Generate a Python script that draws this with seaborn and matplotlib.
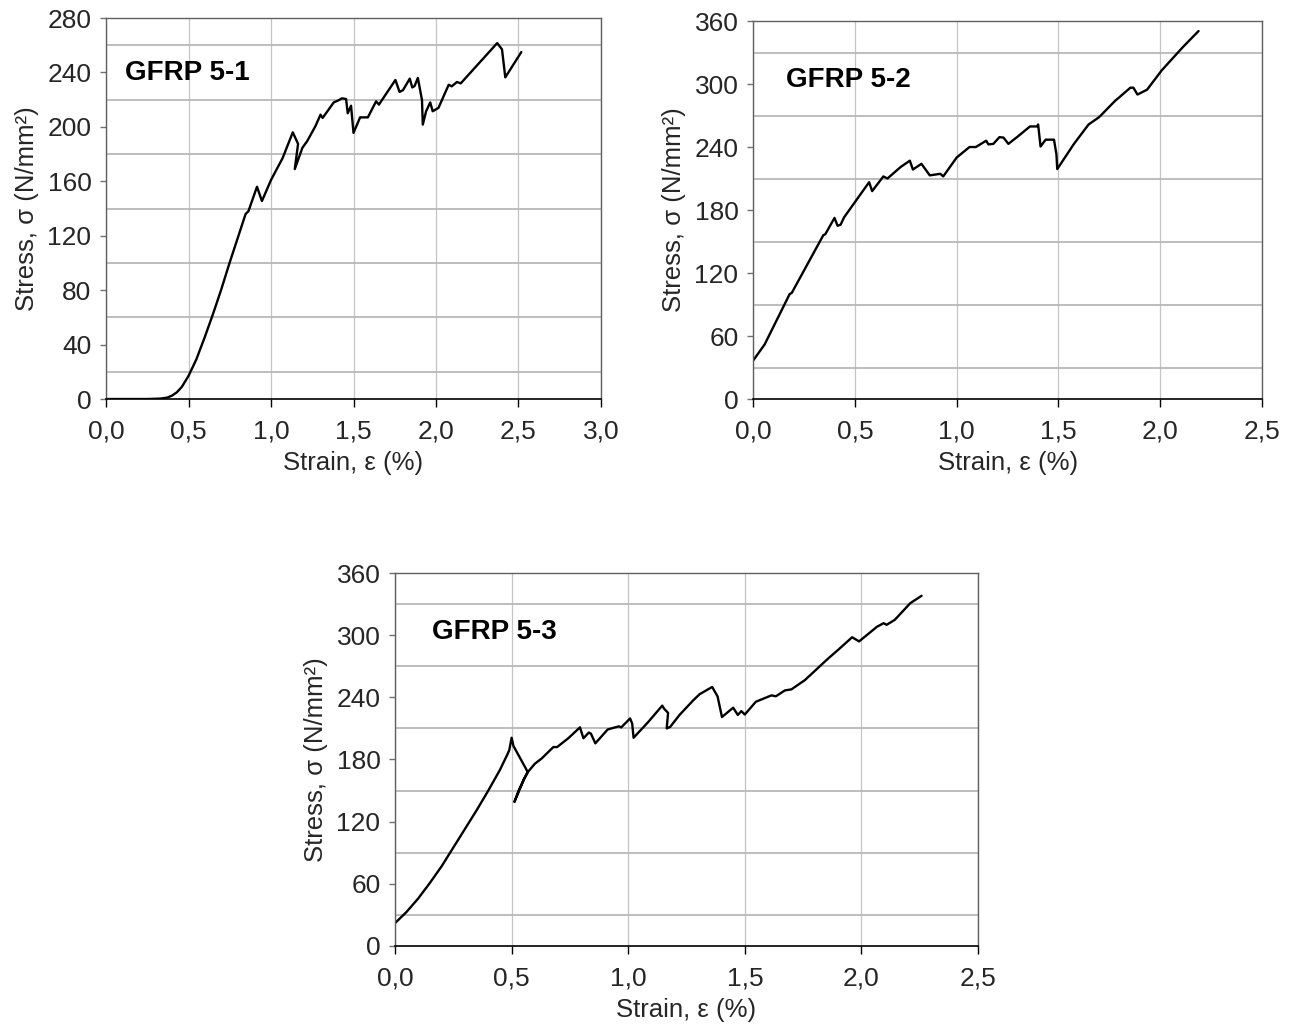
import numpy as np
import pandas as pd
import matplotlib
matplotlib.use("Agg")
import matplotlib.pyplot as plt
from matplotlib.ticker import FixedLocator, FuncFormatter
import seaborn as sns

# ---------------- data ----------------
strain_1 = [0.00, 0.25, 0.33, 0.37, 0.40, 0.43, 0.46, 0.50, 0.547, 0.597, 0.647, 0.697, 0.746, 0.796,
            0.846, 0.863, 0.915, 0.945, 1.00, 1.07, 1.132, 1.164, 1.144, 1.19, 1.219, 1.269,
            1.30, 1.313, 1.38, 1.405, 1.43, 1.455, 1.465, 1.485, 1.50, 1.54, 1.587, 1.637,
            1.654, 1.754, 1.779, 1.80, 1.841, 1.856, 1.87, 1.89, 1.915, 1.92, 1.94, 1.965,
            1.98, 2.015, 2.077, 2.095, 2.127, 2.15, 2.371, 2.40, 2.42, 2.517]
stress_1 = [0.0, 0.0, 0.3, 1.0, 2.5, 5.0, 9.0, 17.0, 29.0, 45.0, 62.0, 80.0, 99.0, 117.5,
            136.0, 138.0, 156.0, 145.5, 161.0, 177.0, 196.0, 187.5, 169.0, 184.6, 189.5, 200.5,
            209.0, 206.6, 218.0, 219.3, 221.0, 220.5, 210.0, 215.6, 195.6, 207.0, 207.0, 218.8,
            216.4, 234.5, 225.7, 227.0, 235.5, 229.0, 230.0, 236.0, 219.8, 201.7, 211.5, 218.0,
            211.5, 214.0, 231.0, 229.8, 233.0, 232.0, 261.6, 257.0, 236.4, 255.0]

strain_2 = [0.00, 0.057, 0.18, 0.19, 0.345, 0.355, 0.40, 0.415, 0.43, 0.447, 0.57, 0.585,
            0.64, 0.66, 0.725, 0.77, 0.785, 0.827, 0.868, 0.92, 0.934, 1.00, 1.063, 1.094,
            1.145, 1.156, 1.18, 1.21, 1.23, 1.254, 1.30, 1.36, 1.396, 1.40, 1.412, 1.437,
            1.478, 1.49, 1.494, 1.576, 1.648, 1.70, 1.778, 1.80, 1.853, 1.868, 1.888, 1.935,
            2.007, 2.11, 2.188]
stress_2 = [36.5, 52.0, 100.0, 101.0, 156.0, 157.0, 172.5, 165.0, 166.0, 173.0, 206.5, 198.0,
            212.0, 210.0, 221.0, 227.0, 218.6, 224.0, 213.0, 214.5, 212.0, 230.0, 240.0, 240.0,
            246.0, 242.5, 243.0, 249.4, 249.0, 243.0, 250.0, 259.6, 259.6, 261.5, 240.5, 247.0,
            247.0, 233.0, 219.0, 243.0, 261.5, 268.5, 284.0, 287.6, 296.5, 296.5, 290.0, 294.6,
            313.0, 335.0, 350.5]

strain_3 = [0.00, 0.05, 0.10, 0.15, 0.20, 0.25, 0.30, 0.35, 0.40, 0.45, 0.48, 0.49, 0.50,
            0.508, 0.569, 0.553, 0.512, 0.53, 0.553, 0.57, 0.60, 0.629, 0.679, 0.695, 0.743,
            0.793, 0.808, 0.831, 0.84, 0.859, 0.912, 0.96, 0.97, 1.008, 1.017, 1.023, 1.085,
            1.146, 1.154, 1.171, 1.165, 1.18, 1.22, 1.277, 1.306, 1.36, 1.383, 1.402, 1.45,
            1.47, 1.485, 1.50, 1.547, 1.614, 1.633, 1.672, 1.70, 1.758, 1.855, 1.90, 1.96,
            1.99, 2.066, 2.095, 2.108, 2.143, 2.21, 2.258]
stress_3 = [22.0, 33.0, 46.0, 61.0, 77.0, 95.0, 113.0, 131.0, 150.0, 170.0, 184.0, 189.0, 201.0,
            193.0, 168.0, 161.0, 139.0, 150.0, 161.0, 168.0, 176.0, 181.0, 192.0, 192.0, 200.5,
            211.0, 200.5, 206.0, 205.0, 195.6, 209.0, 212.0, 211.0, 219.6, 214.7, 201.0, 216.0,
            232.0, 229.0, 225.0, 210.0, 211.5, 223.0, 236.7, 243.0, 250.0, 241.0, 221.0, 230.0,
            223.0, 226.7, 223.4, 235.7, 241.9, 241.0, 246.7, 247.7, 256.7, 277.0, 285.8, 298.0,
            294.0, 308.0, 311.6, 310.0, 314.8, 331.0, 338.0]

labels = ["GFRP 5-1", "GFRP 5-2", "GFRP 5-3"]
x_ticks_1 = [0.0, 0.5, 1.0, 1.5, 2.0, 2.5, 3.0]
x_ticks_23 = [0.0, 0.5, 1.0, 1.5, 2.0, 2.5]
y_ticks_1 = [0, 40, 80, 120, 160, 200, 240, 280]
y_ticks_23 = [0, 60, 120, 180, 240, 300, 360]

# ---------------- style ----------------
sns.set_style("white")
plt.rcParams["font.family"] = ["Liberation Sans", "DejaVu Sans"]

fig = plt.figure(figsize=(12.93, 10.26), dpi=100)
axes_rect = [
    [0.0820, 0.6111, 0.3828, 0.3713],
    [0.5824, 0.6111, 0.3937, 0.3684],
    [0.3055, 0.0780, 0.4509, 0.3635],
]
text_pos = [(0.038, 0.856), (0.065, 0.844), (0.063, 0.842)]
series = [(strain_1, stress_1), (strain_2, stress_2), (strain_3, stress_3)]
xt = [x_ticks_1, x_ticks_23, x_ticks_23]
yt = [y_ticks_1, y_ticks_23, y_ticks_23]

comma = FuncFormatter(lambda v, p: f"{v:.1f}".replace(".", ","))
intfmt = FuncFormatter(lambda v, p: f"{int(round(v))}")

for i in range(3):
    ax = fig.add_axes(axes_rect[i])
    df = pd.DataFrame({"strain": series[i][0], "stress": series[i][1]})
    sns.lineplot(data=df, x="strain", y="stress", sort=False, estimator=None,
                 color="black", linewidth=1.7, ax=ax)
    ax.set_xlim(xt[i][0], xt[i][-1])
    ax.set_ylim(yt[i][0], yt[i][-1])
    ax.xaxis.set_major_locator(FixedLocator(xt[i]))
    ax.yaxis.set_major_locator(FixedLocator(yt[i]))
    step = yt[i][1] - yt[i][0]
    minors = [v + step / 2 for v in yt[i][:-1]]
    ax.yaxis.set_minor_locator(FixedLocator(minors))
    ax.xaxis.set_major_formatter(comma)
    ax.yaxis.set_major_formatter(intfmt)
    ax.grid(False)
    ax.grid(which="major", axis="x", color="#c4c4c4", linewidth=0.9)
    ax.grid(which="minor", axis="y", color="#b8b8b8", linewidth=1.3)
    ax.set_axisbelow(True)
    ax.tick_params(axis="x", which="major", direction="out", length=6, width=1,
                   color="black", pad=9, labelsize=19, bottom=True)
    ax.tick_params(axis="y", which="major", direction="out", length=4.5, width=1,
                   color="#707070", pad=6, labelsize=19, left=True)
    ax.tick_params(which="minor", length=0)
    for side in ["left", "top", "right"]:
        ax.spines[side].set_color("#606060")
        ax.spines[side].set_linewidth(1.0)
    ax.spines["bottom"].set_color("black")
    ax.spines["bottom"].set_linewidth(1.2)
    ax.set_xlabel("Strain, ε (%)", fontsize=18.5, labelpad=5)
    ax.set_ylabel("Stress, σ (N/mm²)", fontsize=18.5, labelpad=6)
    ax.text(text_pos[i][0], text_pos[i][1], labels[i], transform=ax.transAxes,
            fontsize=20, fontweight="bold", ha="left", va="center", color="black")

fig.savefig("out.png", dpi=100, facecolor="white")
